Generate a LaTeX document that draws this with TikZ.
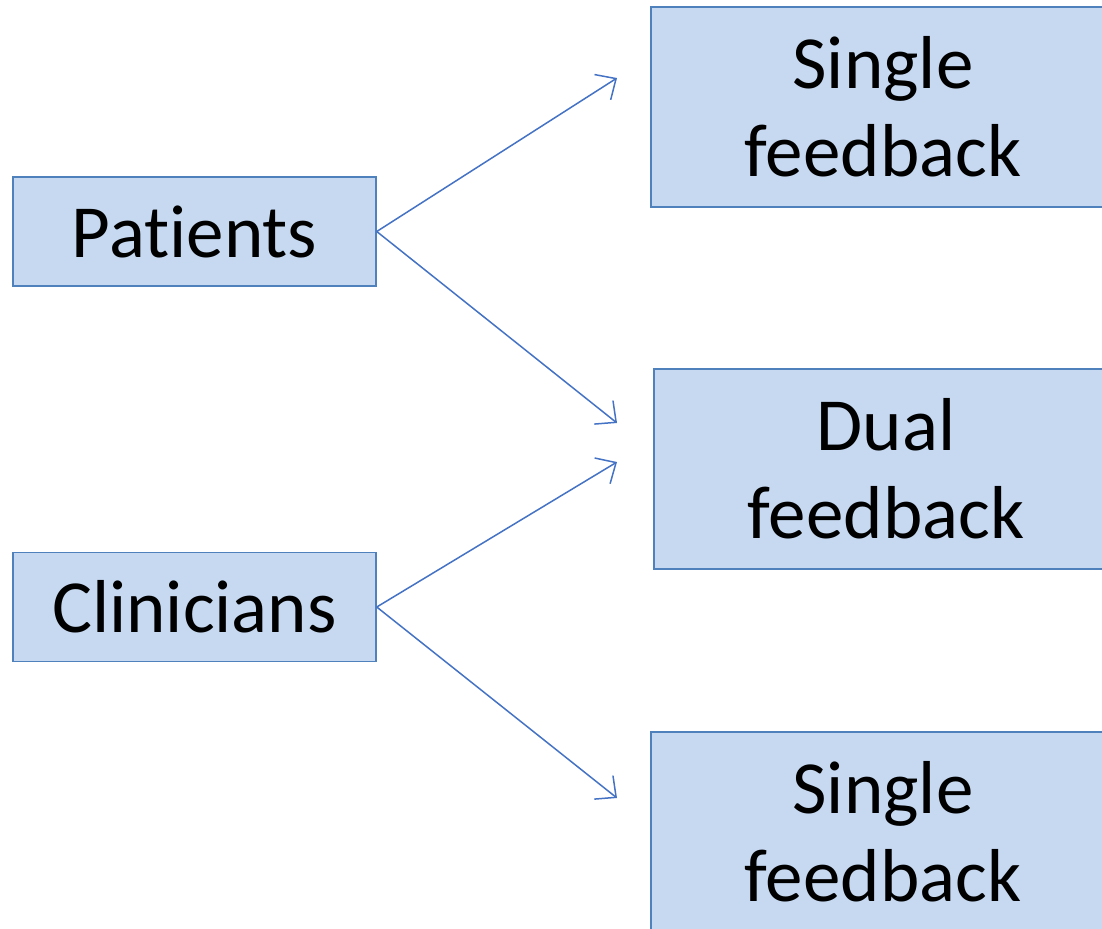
\documentclass[tikz,border=0pt]{standalone}
\usepackage{fontspec}
\setmainfont{Carlito}[Ligatures={NoCommon,NoContextual}]
\usetikzlibrary{arrows.meta}
\definecolor{boxfill}{RGB}{198,217,241}
\definecolor{boxline}{RGB}{79,129,189}
\definecolor{arrowline}{RGB}{68,114,196}
\tikzset{
    groupbox/.style={rectangle, fill=boxfill, draw=boxline, line width=0.75pt, minimum width=181.5pt, minimum height=54.5pt, text centered, inner sep=0pt, font=\fontsize{37.5}{44}\selectfont},
    feedbox/.style={groupbox, minimum width=232pt, minimum height=100pt, align=center},
    feedarrow/.style={draw=arrowline, line width=0.75pt, -{Straight Barb[length=8pt, width=15pt, line width=0.75pt]}}
}
\begin{document}
\begin{tikzpicture}[x=0.5pt, y=-0.5pt]
            \useasboundingbox (0,0) rectangle (1102,928);
            \clip (0,0) rectangle (1102,928);
            \node [groupbox] (patients) at (194.5, 231.5) {Patients};
            \node [groupbox] (clinicians) at (194.5, 607) {Clinicians};
            \node [feedbox] (single1) at (883, 107) {Single\\feedback};
            \node [feedbox] (dual) at (886, 469) {Dual\\feedback};
            \node [feedbox] (single2) at (883, 832) {Single\\feedback};
            \coordinate (pa1) at (617, 78);
            \coordinate (pa2) at (617, 423);
            \coordinate (cl1) at (617, 462);
            \coordinate (cl2) at (617, 798);
            \draw[feedarrow] (patients.east) -- (pa1);
            \draw[feedarrow] (patients.east) -- (pa2);
            \draw[feedarrow] (clinicians.east) -- (cl1);
            \draw[feedarrow] (clinicians.east) -- (cl2);
        \end{tikzpicture}
\end{document}
